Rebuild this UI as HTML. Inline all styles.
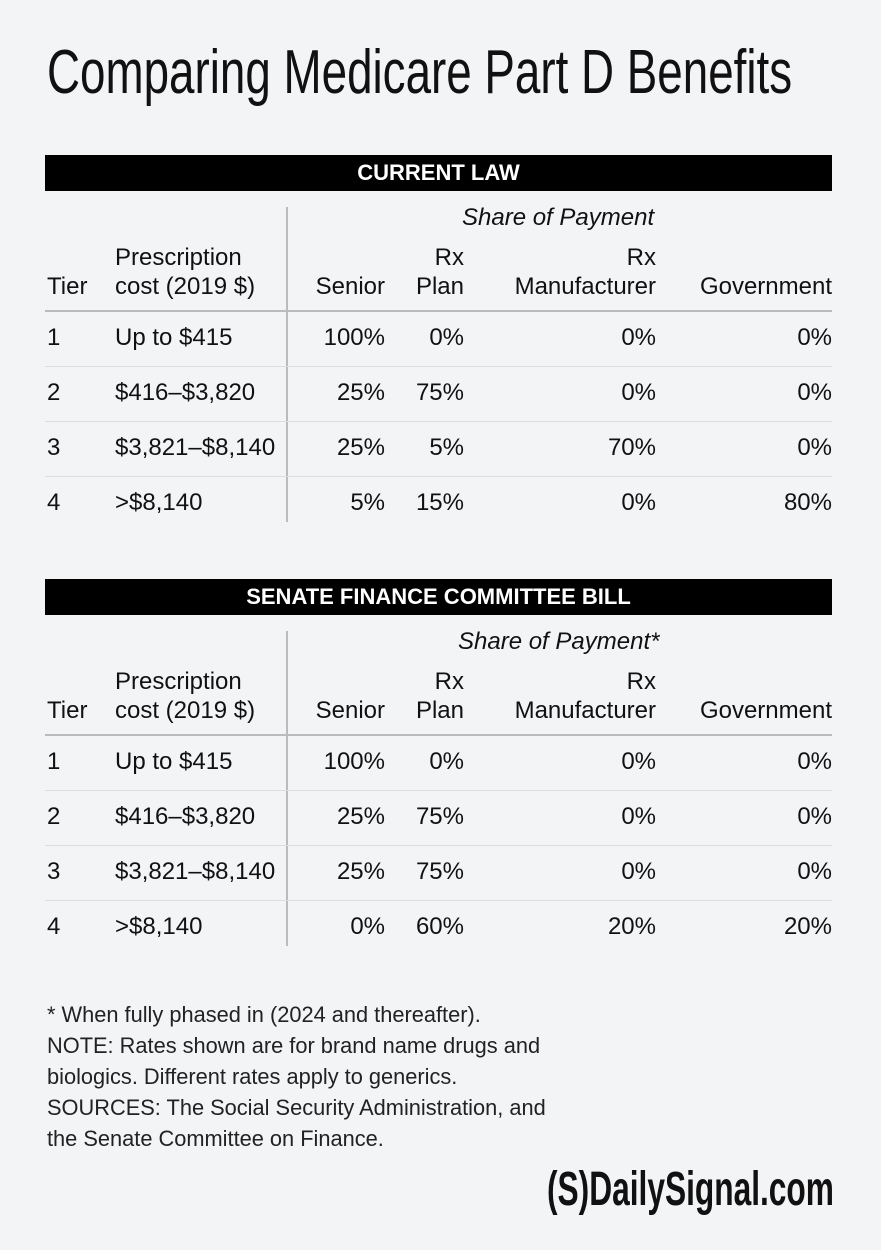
<!DOCTYPE html>
<html><head><meta charset="utf-8"><style>
body{margin:0;background:#f3f4f6;}
#c{position:relative;width:881px;height:1250px;background:#f3f4f6;font-family:"Liberation Sans",sans-serif;color:#111;overflow:hidden}
.t{position:absolute;font-size:24px;line-height:26px;white-space:nowrap}
.r{text-align:right}
.bar{position:absolute;left:45px;width:787px;height:36px;background:#000;color:#fff;font-weight:bold;font-size:22px;line-height:36px;text-align:center}
.hl{position:absolute;left:45px;width:787px;height:1px;background:#ddd}
.hm{position:absolute;left:45px;width:787px;height:2px;background:#bbb}
.vl{position:absolute;left:286px;width:2px;background:#bbb}
.it{font-style:italic}
</style></head><body><div id="c">
<div class="t" style="left:47px;top:40px;font-size:62px;line-height:66px;transform:scaleX(0.738);transform-origin:left top;">Comparing Medicare Part D Benefits</div>

<div class="bar" style="top:155px">CURRENT LAW</div>
<div class="vl" style="top:207px;height:315px"></div>
<div class="t it" style="left:462px;top:205px">Share of Payment</div>
<div class="t" style="left:115px;top:245px">Prescription</div>
<div class="t" style="left:47px;top:274px">Tier</div>
<div class="t" style="left:115px;top:274px">cost (2019 $)</div>
<div class="t r" style="right:496px;top:274px">Senior</div>
<div class="t r" style="right:417px;top:245px">Rx</div>
<div class="t r" style="right:417px;top:274px">Plan</div>
<div class="t r" style="right:225px;top:245px">Rx</div>
<div class="t r" style="right:225px;top:274px">Manufacturer</div>
<div class="t r" style="right:49px;top:274px">Government</div>
<div class="hm" style="top:310px"></div>
<div class="hl" style="top:366px"></div><div class="hl" style="top:421px"></div><div class="hl" style="top:476px"></div>

<div class="t" style="left:47px;top:325px">1</div><div class="t" style="left:115px;top:325px">Up to $415</div>
<div class="t r" style="right:496px;top:325px">100%</div><div class="t r" style="right:417px;top:325px">0%</div><div class="t r" style="right:225px;top:325px">0%</div><div class="t r" style="right:49px;top:325px">0%</div>
<div class="t" style="left:47px;top:380px">2</div><div class="t" style="left:115px;top:380px">$416–$3,820</div>
<div class="t r" style="right:496px;top:380px">25%</div><div class="t r" style="right:417px;top:380px">75%</div><div class="t r" style="right:225px;top:380px">0%</div><div class="t r" style="right:49px;top:380px">0%</div>
<div class="t" style="left:47px;top:435px">3</div><div class="t" style="left:115px;top:435px">$3,821–$8,140</div>
<div class="t r" style="right:496px;top:435px">25%</div><div class="t r" style="right:417px;top:435px">5%</div><div class="t r" style="right:225px;top:435px">70%</div><div class="t r" style="right:49px;top:435px">0%</div>
<div class="t" style="left:47px;top:490px">4</div><div class="t" style="left:115px;top:490px">&gt;$8,140</div>
<div class="t r" style="right:496px;top:490px">5%</div><div class="t r" style="right:417px;top:490px">15%</div><div class="t r" style="right:225px;top:490px">0%</div><div class="t r" style="right:49px;top:490px">80%</div>

<div class="bar" style="top:579px">SENATE FINANCE COMMITTEE BILL</div>
<div class="vl" style="top:631px;height:315px"></div>
<div class="t it" style="left:458px;top:629px">Share of Payment*</div>
<div class="t" style="left:115px;top:669px">Prescription</div>
<div class="t" style="left:47px;top:698px">Tier</div>
<div class="t" style="left:115px;top:698px">cost (2019 $)</div>
<div class="t r" style="right:496px;top:698px">Senior</div>
<div class="t r" style="right:417px;top:669px">Rx</div>
<div class="t r" style="right:417px;top:698px">Plan</div>
<div class="t r" style="right:225px;top:669px">Rx</div>
<div class="t r" style="right:225px;top:698px">Manufacturer</div>
<div class="t r" style="right:49px;top:698px">Government</div>
<div class="hm" style="top:734px"></div>
<div class="hl" style="top:790px"></div><div class="hl" style="top:845px"></div><div class="hl" style="top:900px"></div>

<div class="t" style="left:47px;top:749px">1</div><div class="t" style="left:115px;top:749px">Up to $415</div>
<div class="t r" style="right:496px;top:749px">100%</div><div class="t r" style="right:417px;top:749px">0%</div><div class="t r" style="right:225px;top:749px">0%</div><div class="t r" style="right:49px;top:749px">0%</div>
<div class="t" style="left:47px;top:804px">2</div><div class="t" style="left:115px;top:804px">$416–$3,820</div>
<div class="t r" style="right:496px;top:804px">25%</div><div class="t r" style="right:417px;top:804px">75%</div><div class="t r" style="right:225px;top:804px">0%</div><div class="t r" style="right:49px;top:804px">0%</div>
<div class="t" style="left:47px;top:859px">3</div><div class="t" style="left:115px;top:859px">$3,821–$8,140</div>
<div class="t r" style="right:496px;top:859px">25%</div><div class="t r" style="right:417px;top:859px">75%</div><div class="t r" style="right:225px;top:859px">0%</div><div class="t r" style="right:49px;top:859px">0%</div>
<div class="t" style="left:47px;top:914px">4</div><div class="t" style="left:115px;top:914px">&gt;$8,140</div>
<div class="t r" style="right:496px;top:914px">0%</div><div class="t r" style="right:417px;top:914px">60%</div><div class="t r" style="right:225px;top:914px">20%</div><div class="t r" style="right:49px;top:914px">20%</div>

<div class="t" style="left:47px;top:999px;font-size:21.8px;line-height:31px;white-space:nowrap;color:#222">* When fully phased in (2024 and thereafter).<br>NOTE: Rates shown are for brand name drugs and<br>biologics. Different rates apply to generics.<br>SOURCES: The Social Security Administration, and<br>the Senate Committee on Finance.</div>

<div class="t" style="left:547px;top:1164px;font-size:48px;line-height:52px;font-weight:bold;transform:scaleX(0.66);transform-origin:left top;">(S)DailySignal.com</div>
</div></body></html>
